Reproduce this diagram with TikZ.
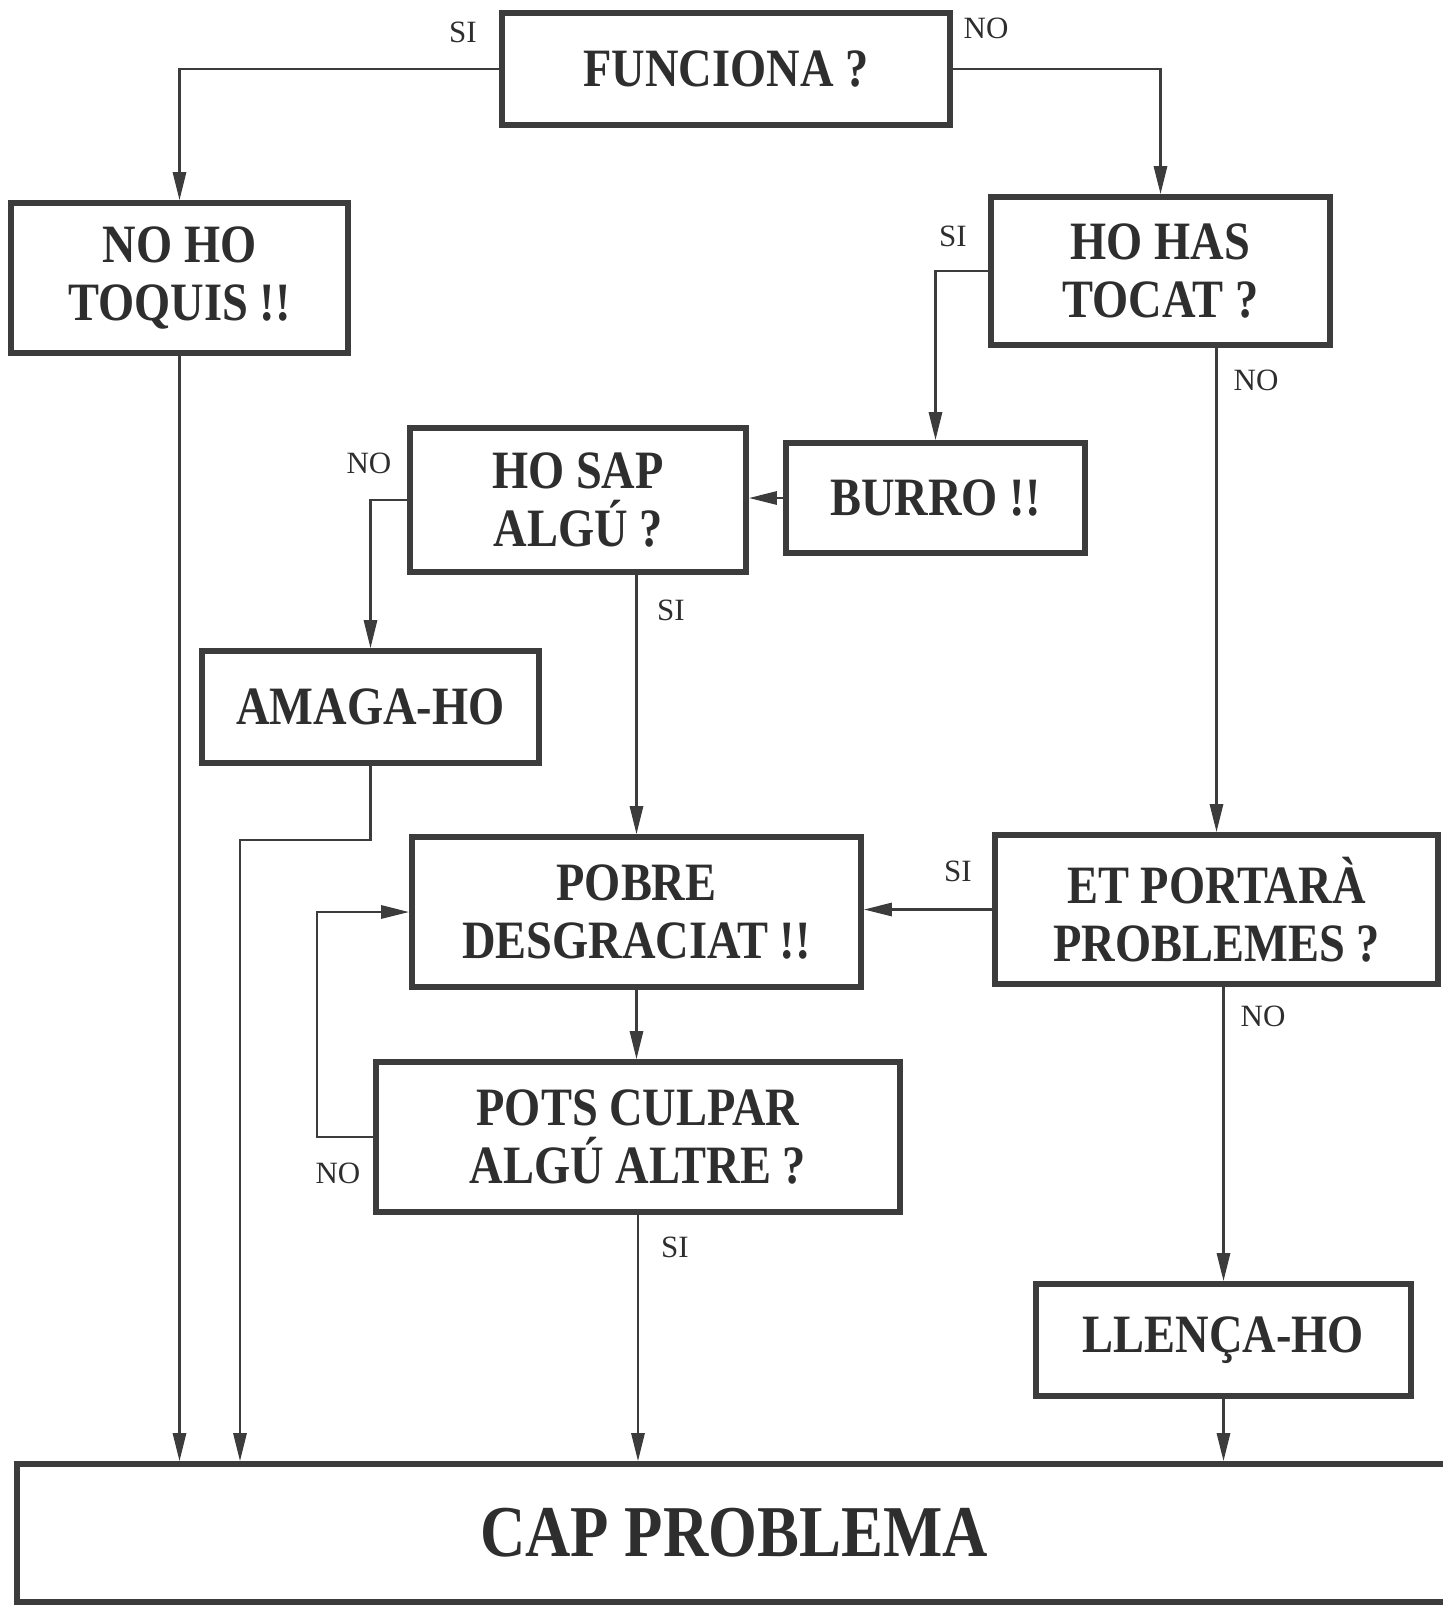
\documentclass[tikz,border=0pt]{standalone}
\usepackage{fontspec}
\setmainfont{Liberation Serif}
\newfontfamily\boxfnt{Liberation Serif}[FakeStretch=0.86]
\usetikzlibrary{arrows.meta}
\definecolor{ink}{HTML}{3C3C3C}
\definecolor{txt}{HTML}{2E2E2E}
\begin{document}
\begin{tikzpicture}[x=0.5pt,y=-0.5pt,
  box/.style={draw=ink,line width=2.8pt,fill=white,inner sep=0pt,align=center,
    text=txt,font=\boxfnt\bfseries\fontsize{27}{29}\selectfont},
  arr/.style={draw=ink,line width=1.4pt,-{Triangle[length=14pt,width=6.5pt]}},
  lbl/.style={text=txt,inner sep=0pt,font=\fontsize{15.5}{17}\selectfont}]
\useasboundingbox (0,0) rectangle (1443,1607);
% nodes
\node[box,minimum width=224pt,minimum height=56pt] (fun) at (726,69) {FUNCIONA ?};
\node[box,minimum width=168.5pt,minimum height=75pt] (noho) at (179.5,278) {NO HO\\TOQUIS !!};
\node[box,minimum width=169.5pt,minimum height=74pt] (has) at (1160.5,271) {HO HAS\\TOCAT ?};
\node[box,minimum width=168pt,minimum height=72pt] (sap) at (578,500) {HO SAP\\ALGÚ ?};
\node[box,minimum width=149.5pt,minimum height=55pt] (burro) at (935.5,498) {BURRO !!};
\node[box,minimum width=168.5pt,minimum height=56pt] (amaga) at (370.5,707) {AMAGA-HO};
\node[box,minimum width=224.5pt,minimum height=75pt] (pobre) at (636.5,912) {POBRE\\DESGRACIAT !!};
\node[box,minimum width=221.5pt,minimum height=74.5pt] (et) at (1216.5,909.5) {ET PORTARÀ\\PROBLEMES ?};
\node[box,minimum width=262pt,minimum height=75pt] (pots) at (638,1137) {POTS CULPAR\\ALGÚ ALTRE ?};
\node[box,minimum width=187.5pt,minimum height=56pt] (llen) at (1223.5,1340) {LLENÇA-HO};
\node[box,minimum width=717pt,minimum height=69pt,font=\boxfnt\bfseries\fontsize{36.5}{40}\selectfont] (cap) at (734,1533) {CAP PROBLEMA};
% connectors
\draw[arr] (fun.west) -| (noho.north);
\draw[arr] (fun.east) -| (has.north);
\draw[arr] (has.west) -| (burro.north);
\draw[arr] (et.north |- has.south) -- (et.north);
\draw[arr] (burro.west) -- (burro.west -| sap.east);
\draw[arr] (sap.west) -| (amaga.north);
\draw[arr] (pobre.north |- sap.south) -- (pobre.north);
\draw[arr] (noho.south) -- (noho.south |- cap.north);
\coordinate (abend) at (240,840);
\draw[arr] (amaga.south) |- (abend) -- (abend |- cap.north);
\draw[arr] (et.west) -- (et.west -| pobre.east);
\draw[arr] (pobre.south) -- (pobre.south |- pots.north);
\coordinate (pbend) at (317,1137);
\draw[arr] (pots.west) -- (pbend) |- (pobre.west);
\draw[arr] (pots.south) -- (pots.south |- cap.north);
\draw[arr] (llen.north |- et.south) -- (llen.north);
\draw[arr] (llen.south) -- (llen.south |- cap.north);
% labels
\node[lbl] (l1) at (463,32) {SI};
\node[lbl] (l2) at (986,28) {NO};
\node[lbl] (l3) at (953,236) {SI};
\node[lbl] (l4) at (1256,380) {NO};
\node[lbl] (l5) at (369,463) {NO};
\node[lbl] (l6) at (671,610) {SI};
\node[lbl] (l7) at (958,871) {SI};
\node[lbl] (l8) at (338,1173) {NO};
\node[lbl] (l9) at (675,1247) {SI};
\node[lbl] (l10) at (1263,1016) {NO};
\end{tikzpicture}
\end{document}
